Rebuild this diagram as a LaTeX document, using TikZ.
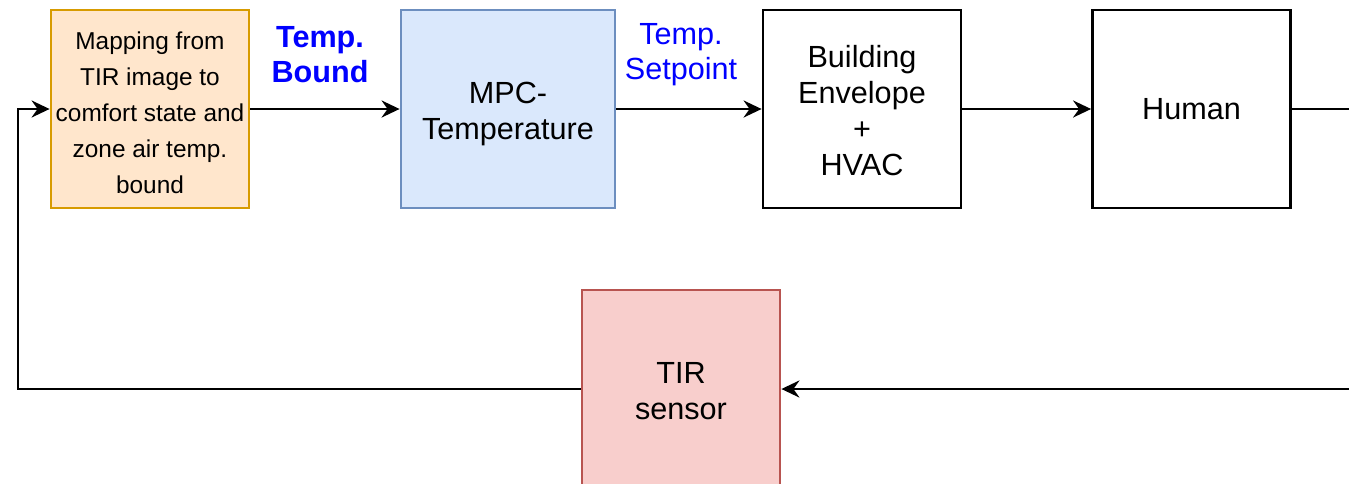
\documentclass[tikz,border=0pt]{standalone}
\usepackage{fontspec}
\setmainfont{Liberation Sans}
\usetikzlibrary{arrows.meta,positioning}
\definecolor{mapfill}{HTML}{FFE6CC}
\definecolor{mapdraw}{HTML}{D79B00}
\definecolor{mpcfill}{HTML}{DAE8FC}
\definecolor{mpcdraw}{HTML}{6C8EBF}
\definecolor{tirfill}{HTML}{F8CECC}
\definecolor{tirdraw}{HTML}{B85450}
\tikzstyle{blk} = [rectangle, draw=black, fill=white, align=center, inner sep=0pt, minimum width=99pt, minimum height=99pt, line width=1.4pt, font=\fontsize{15.3}{18}\selectfont]
\tikzstyle{lbl} = [blue, align=center, inner sep=0pt, font=\fontsize{15.3}{17.5}\selectfont]
\tikzstyle{sig} = [-{Stealth[length=9pt,width=8.5pt,inset=3pt]}, line width=1.3pt]

\begin{document}
\begin{tikzpicture}[x=0.5pt,y=-0.5pt]
		\clip (0,0) rectangle (1349,483);

		% forward path
		\node[blk, fill=mapfill, draw=mapdraw, font=\fontsize{12.2}{18}\selectfont] (map) at (150,109)
			{\rule{0pt}{13pt}Mapping from\\TIR image to\\comfort state and\\zone air temp.\\bound};
		\node[blk, fill=mpcfill, draw=mpcdraw, minimum width=107pt] (mpc) at (508,109) {\rule{0pt}{16pt}MPC-\\Temperature};
		\node[blk] (bld) at (862,109) {\rule{0pt}{13pt}Building\\Envelope\\+\\HVAC};
		\node[blk] (hum) at (1191.5,109) {Human};

		% feedback path
		\node[blk, fill=tirfill, draw=tirdraw] (tir) at (681,389) {\rule{0pt}{13pt}TIR\\sensor};

		\node[lbl, font=\fontsize{15.3}{17.5}\selectfont\bfseries] (bnd) at (320,55) {Temp.\\Bound};
		\node[lbl] (setp) at (681,55) {Temp.\\Setpoint};

		\coordinate (outr) at (1349,109);
		\coordinate (inr) at (1349,389);
		\coordinate (turn) at (18,389);

		\draw[sig] (map) -- (mpc);
		\draw[sig] (mpc) -- (bld);
		\draw[sig] (bld) -- (hum);
		\draw[line width=1.3pt] (hum) -- (outr);
		\draw[sig] (inr) -- (tir);
		\draw[sig] (tir) -- (turn) |- (map);
	\end{tikzpicture}
\end{document}
